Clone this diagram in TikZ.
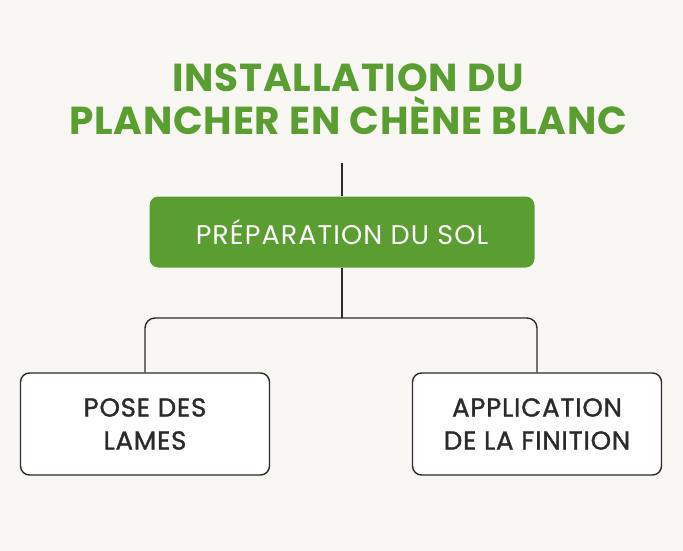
\documentclass[tikz,border=0pt]{standalone}
\usepackage{fontspec}
\setmainfont{Poppins}
\usetikzlibrary{positioning}
\definecolor{oakgreen}{HTML}{5A9E32}
\definecolor{inkgray}{HTML}{2B2B2B}
\definecolor{paper}{HTML}{F8F7F3}
\tikzset{
  stepgreen/.style={fill=oakgreen, rounded corners=9pt, minimum width=385pt, minimum height=71pt, text=white, font=\fontsize{27}{30}\selectfont\addfontfeature{LetterSpace=4}},
  stepwhite/.style={draw=inkgray, line width=1.4pt, fill=white, rounded corners=9pt, minimum width=249pt, minimum height=102pt, text=inkgray, align=center, font=\fontsize{26}{33}\selectfont\addfontfeature{LetterSpace=3,FakeBold=1.2}},
  link/.style={draw=inkgray, line width=1.4pt, rounded corners=10pt}
}
\begin{document}
\begin{tikzpicture}[x=1pt,y=-1pt]
  \fill[paper] (0,0) rectangle (683,551);
  \useasboundingbox (0,0) rectangle (683,551);
  \node[text=oakgreen, font=\fontsize{39}{43}\selectfont\bfseries\addfontfeature{LetterSpace=2}, align=center] (title) at (348,99) {INSTALLATION DU\\PLANCHER EN CHÈNE BLANC};
  \node[stepgreen] (prep) at (342,232) {PRÉPARATION DU SOL};
  \node[stepwhite] (pose) at (145,424) {POSE DES\\LAMES};
  \node[stepwhite] (finition) at (537,424) {APPLICATION\\DE LA FINITION};
  \coordinate (top) at (342,163);
  \coordinate (fork) at (342,318);
  \draw[link] (top) -- (prep.north);
  \draw[link] (prep.south) -- (fork);
  \draw[link] (fork) -| (pose.north);
  \draw[link] (fork) -| (finition.north);
\end{tikzpicture}
\end{document}
